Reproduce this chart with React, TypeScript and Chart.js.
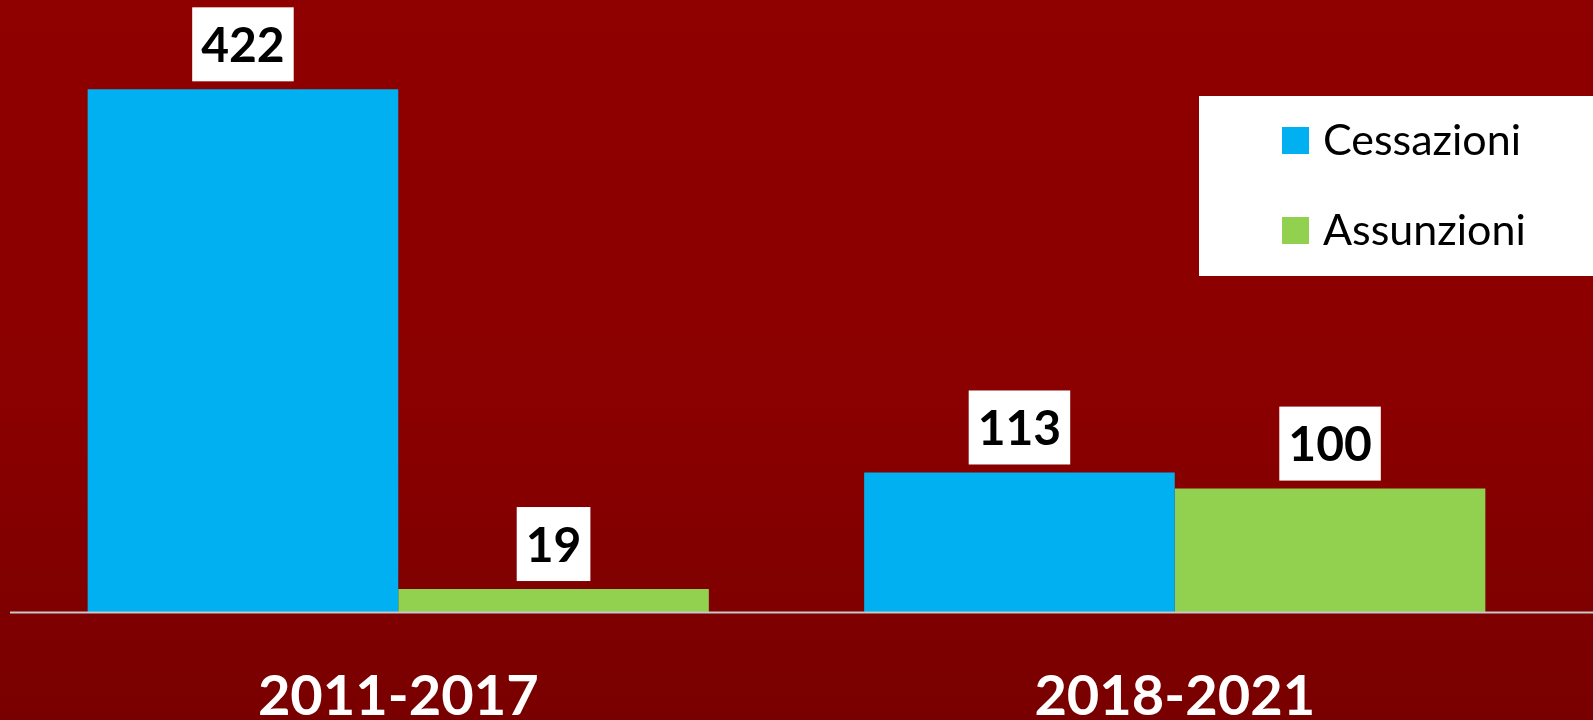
import React, { useEffect, useRef } from "react";
import { Chart, registerables } from "chart.js";

Chart.register(...registerables);

const categories = ["2011-2017", "2018-2021"];
const cessazioni = [422, 113];
const assunzioni = [19, 100];
const seriesLabels = ["Cessazioni", "Assunzioni"];
const seriesColors = ["#00B0F0", "#92D050"];
const yMax = 490;

const W = 1593;
const H = 720;

export default function App() {
  const ref = useRef<HTMLCanvasElement | null>(null);

  useEffect(() => {
    if (!ref.current) return;

    const bgPlugin = {
      id: "bgPlugin",
      beforeDraw(chart: any) {
        const { ctx, width, height } = chart;
        const g = ctx.createLinearGradient(0, 0, 0, height);
        g.addColorStop(0, "#8F0000");
        g.addColorStop(0.55, "#8B0000");
        g.addColorStop(1, "#790000");
        ctx.save();
        ctx.fillStyle = g;
        ctx.fillRect(0, 0, width, height);
        ctx.restore();
      },
    };

    const baselinePlugin = {
      id: "baselinePlugin",
      afterDatasetsDraw(chart: any) {
        const { ctx } = chart;
        const y = chart.scales.y.getPixelForValue(0);
        ctx.save();
        ctx.strokeStyle = "#C8C8C8";
        ctx.lineWidth = 2;
        ctx.beginPath();
        ctx.moveTo(chart.chartArea.left, y);
        ctx.lineTo(chart.width, y);
        ctx.stroke();
        ctx.restore();
      },
    };

    const valueLabelPlugin = {
      id: "valueLabelPlugin",
      afterDatasetsDraw(chart: any) {
        const { ctx } = chart;
        ctx.save();
        ctx.font = "bold 48px Lato";
        ctx.textAlign = "center";
        ctx.textBaseline = "middle";
        chart.data.datasets.forEach((ds: any, di: number) => {
          const meta = chart.getDatasetMeta(di);
          meta.data.forEach((el: any, i: number) => {
            const text = String(ds.data[i]);
            const tw = ctx.measureText(text).width;
            const bw = tw + 18;
            const bh = 74;
            const bottom = el.y - 8;
            ctx.fillStyle = "#FFFFFF";
            ctx.fillRect(el.x - bw / 2, bottom - bh, bw, bh);
            ctx.fillStyle = "#000000";
            ctx.fillText(text, el.x, bottom - bh / 2 + 2);
          });
        });
        ctx.restore();
      },
    };

    const legendPlugin = {
      id: "legendBoxPlugin",
      afterDraw(chart: any) {
        const { ctx } = chart;
        ctx.save();
        ctx.fillStyle = "#FFFFFF";
        ctx.fillRect(1199, 96, W - 1199, 180);
        ctx.font = "43px Lato";
        ctx.textAlign = "left";
        ctx.textBaseline = "middle";
        chart.data.datasets.forEach((ds: any, i: number) => {
          const cy = 140.5 + i * 90;
          ctx.fillStyle = ds.backgroundColor;
          ctx.fillRect(1282, cy - 13.5, 27, 27);
          ctx.fillStyle = "#000000";
          ctx.fillText(ds.label, 1323, cy + 1);
        });
        ctx.restore();
      },
    };

    const chart = new Chart(ref.current, {
      type: "bar",
      data: {
        labels: categories,
        datasets: [
          {
            label: seriesLabels[0],
            data: cessazioni,
            backgroundColor: seriesColors[0],
            borderWidth: 0,
            categoryPercentage: 0.8,
            barPercentage: 1.0,
          },
          {
            label: seriesLabels[1],
            data: assunzioni,
            backgroundColor: seriesColors[1],
            borderWidth: 0,
            categoryPercentage: 0.8,
            barPercentage: 1.0,
          },
        ],
      },
      options: {
        responsive: false,
        animation: false,
        layout: { padding: { left: 10, right: 30, top: 5, bottom: 0 } },
        plugins: {
          legend: { display: false },
          tooltip: { enabled: false },
        },
        scales: {
          x: {
            grid: { display: false, drawTicks: false },
            border: { display: false },
            ticks: {
              color: "#FFFFFF",
              padding: 51,
              font: { family: "Lato", size: 56, weight: "bold" },
              maxRotation: 0,
            },
            afterFit(scale: any) {
              scale.height = 107.4;
            },
          },
          y: {
            display: false,
            min: 0,
            max: yMax,
          },
        },
      },
      plugins: [bgPlugin, baselinePlugin, valueLabelPlugin, legendPlugin],
    });

    return () => chart.destroy();
  }, []);

  return (
    <div style={{ position: "fixed", left: 0, top: 0, width: W, height: H }}>
      <canvas ref={ref} width={W} height={H} style={{ display: "block" }} />
    </div>
  );
}
